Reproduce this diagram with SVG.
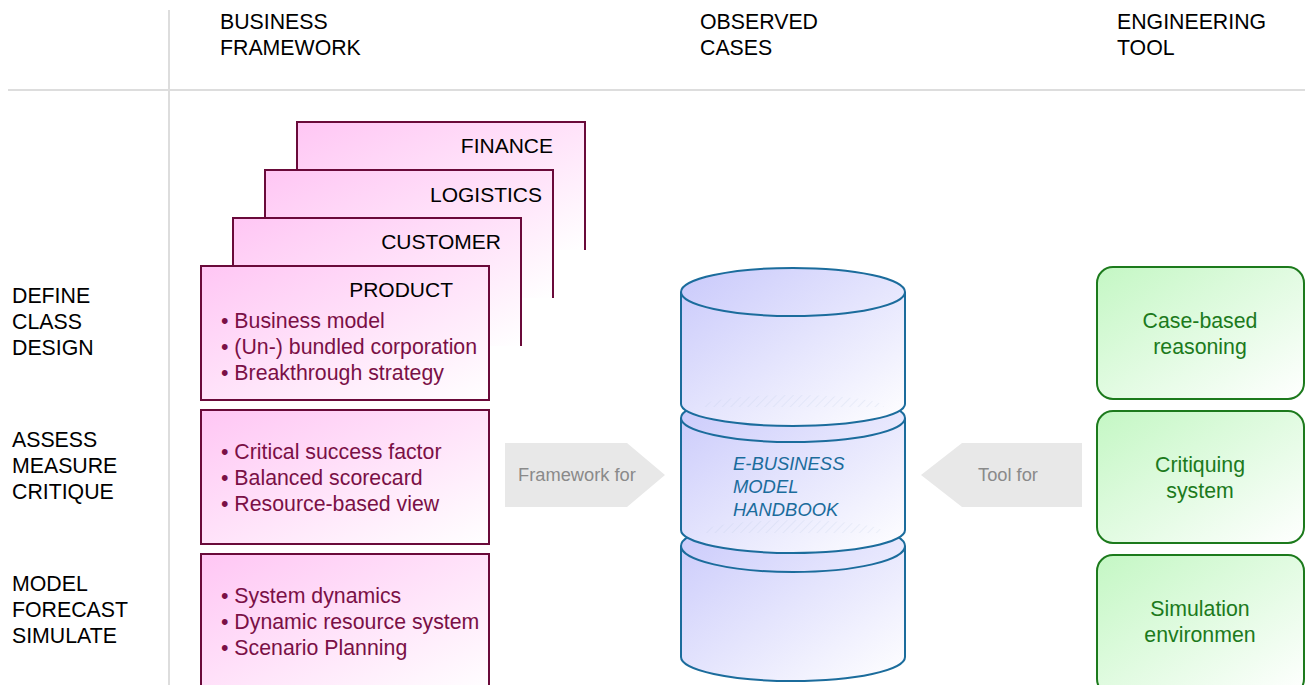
<svg xmlns="http://www.w3.org/2000/svg" width="1305" height="685" viewBox="0 0 1305 685">
  <defs>
    <linearGradient id="pinkFill" x1="0" y1="0" x2="1" y2="1">
      <stop offset="0" stop-color="#ffc6f4"/>
      <stop offset="1" stop-color="#ffffff"/>
    </linearGradient>
    <linearGradient id="blueFill" x1="0" y1="0" x2="1" y2="1">
      <stop offset="0" stop-color="#c9c9fb"/>
      <stop offset="1" stop-color="#ffffff"/>
    </linearGradient>
    <linearGradient id="greenFill" x1="0" y1="0" x2="1" y2="1">
      <stop offset="0" stop-color="#c4f7c4"/>
      <stop offset="1" stop-color="#ffffff"/>
    </linearGradient>
    <pattern id="hatch" width="6" height="6" patternUnits="userSpaceOnUse" patternTransform="rotate(45)">
      <line x1="0" y1="0" x2="0" y2="6" stroke="#a9bddb" stroke-width="1"/>
    </pattern>
  </defs>
  <style>
    text { font-family: "Liberation Sans", Arial, sans-serif; }
    .hdr { font-size: 21.3px; fill: #000; }
    .grid { stroke: #dddddd; stroke-width: 2; fill: none; }
    .card { fill: url(#pinkFill); stroke: #6a0a3a; stroke-width: 2; }
    .cardEdge { fill: none; stroke: #6a0a3a; stroke-width: 2; }
    .cardTitle { font-size: 21px; fill: #000; text-anchor: end; }
    .bullet { font-size: 21.3px; fill: #7a1046; }
    .cyl { fill: url(#blueFill); stroke: #1b6c9c; stroke-width: 2; }
    .cylLine { fill: none; stroke: #1b6c9c; stroke-width: 2; }
    .hatch { fill: url(#hatch); opacity: 0.35; }
    .cylText { font-size: 18.4px; font-style: italic; fill: #1b6c9c; }
    .tool { fill: url(#greenFill); stroke: #1c7a1c; stroke-width: 2; }
    .toolText { font-size: 21.3px; fill: #1c7a1c; text-anchor: middle; }
    .arrow { fill: #e8e8e8; }
    .arrowText { font-size: 18.3px; fill: #8a8a8a; }
  </style>

  <!-- grid lines -->
  <g id="grid">
    <line class="grid" x1="169" y1="10" x2="169" y2="685"/>
    <line class="grid" x1="8" y1="90" x2="1305" y2="90"/>
  </g>

  <!-- column headers -->
  <g id="headers">
    <text class="hdr" x="220" y="29">BUSINESS</text>
    <text class="hdr" x="220" y="55">FRAMEWORK</text>
    <text class="hdr" x="700" y="29">OBSERVED</text>
    <text class="hdr" x="700" y="55">CASES</text>
    <text class="hdr" x="1117" y="29">ENGINEERING</text>
    <text class="hdr" x="1117" y="55">TOOL</text>
  </g>

  <!-- row labels -->
  <g id="rows">
    <text class="hdr" x="12" y="303">DEFINE</text>
    <text class="hdr" x="12" y="329">CLASS</text>
    <text class="hdr" x="12" y="355">DESIGN</text>
    <text class="hdr" x="12" y="447">ASSESS</text>
    <text class="hdr" x="12" y="473">MEASURE</text>
    <text class="hdr" x="12" y="499">CRITIQUE</text>
    <text class="hdr" x="12" y="591">MODEL</text>
    <text class="hdr" x="12" y="617">FORECAST</text>
    <text class="hdr" x="12" y="643">SIMULATE</text>
  </g>

  <!-- stacked framework cards -->
  <g id="card-finance">
    <rect x="297" y="122" width="288" height="128" fill="url(#pinkFill)"/>
    <path class="cardEdge" d="M297 250 V122 H585 V250"/>
    <text class="cardTitle" x="553" y="153">FINANCE</text>
  </g>
  <g id="card-logistics">
    <rect x="265" y="170" width="288" height="128" fill="url(#pinkFill)"/>
    <path class="cardEdge" d="M265 298 V170 H553 V298"/>
    <text class="cardTitle" x="542" y="202">LOGISTICS</text>
  </g>
  <g id="card-customer">
    <rect x="233" y="218" width="288" height="128" fill="url(#pinkFill)"/>
    <path class="cardEdge" d="M233 346 V218 H521 V346"/>
    <text class="cardTitle" x="501" y="249">CUSTOMER</text>
  </g>
  <g id="card-product">
    <rect class="card" x="201" y="266" width="288" height="134"/>
    <text class="cardTitle" x="453" y="297">PRODUCT</text>
    <text class="bullet" x="221" y="328">• Business model</text>
    <text class="bullet" x="221" y="354">• (Un-) bundled corporation</text>
    <text class="bullet" x="221" y="380">• Breakthrough strategy</text>
  </g>
  <g id="box-assess">
    <rect class="card" x="201" y="410" width="288" height="134"/>
    <text class="bullet" x="221" y="459">• Critical success factor</text>
    <text class="bullet" x="221" y="485">• Balanced scorecard</text>
    <text class="bullet" x="221" y="511">• Resource-based view</text>
  </g>
  <g id="box-model">
    <rect class="card" x="201" y="554" width="288" height="140"/>
    <text class="bullet" x="221" y="603">• System dynamics</text>
    <text class="bullet" x="221" y="629">• Dynamic resource system</text>
    <text class="bullet" x="221" y="655">• Scenario Planning</text>
  </g>

  <!-- handbook cylinder: three stacked segments, drawn bottom first so each upper one overlaps -->
  <g id="handbook">
    <!-- bottom segment -->
    <path class="cyl" d="M681 546 A112 26 0 0 1 905 546 V657 A112 24 0 0 1 681 657 Z"/>
    <path class="cylLine" d="M681 546 A112 26 0 0 0 905 546"/>
    <!-- middle segment -->
    <path class="cyl" d="M681 418 A112 24 0 0 1 905 418 V530 A112 23 0 0 1 681 530 Z"/>
    <path class="cylLine" d="M681 418 A112 24 0 0 0 905 418"/>
    <path class="hatch" d="M702 533 A91 13 0 0 1 884 533 Z"/>
    <!-- top segment -->
    <path class="cyl" d="M681 292 A112 24 0 0 1 905 292 V404 A112 22 0 0 1 681 404 Z"/>
    <path class="cylLine" d="M681 292 A112 24 0 0 0 905 292"/>
    <path class="hatch" d="M702 407 A91 12 0 0 1 884 407 Z"/>
    <text class="cylText" x="733" y="470">E-BUSINESS</text>
    <text class="cylText" x="733" y="493">MODEL</text>
    <text class="cylText" x="733" y="516">HANDBOOK</text>
  </g>

  <!-- connectors -->
  <g id="connectors">
    <g id="framework-for">
      <polygon class="arrow" points="505,443 627,443 665,475 627,507 505,507"/>
      <text class="arrowText" x="518" y="481">Framework for</text>
    </g>
    <g id="tool-for">
      <polygon class="arrow" points="1082,443 962,443 921,475 962,507 1082,507"/>
      <text class="arrowText" x="978" y="481">Tool for</text>
    </g>
  </g>

  <!-- engineering tools -->
  <g id="tool-cbr">
    <rect class="tool" x="1097" y="267" width="207" height="132" rx="16"/>
    <text class="toolText" x="1200" y="328">Case-based</text>
    <text class="toolText" x="1200" y="354">reasoning</text>
  </g>
  <g id="tool-critiquing">
    <rect class="tool" x="1097" y="411" width="207" height="132" rx="16"/>
    <text class="toolText" x="1200" y="472">Critiquing</text>
    <text class="toolText" x="1200" y="498">system</text>
  </g>
  <g id="tool-simulation">
    <rect class="tool" x="1097" y="555" width="207" height="140" rx="16"/>
    <text class="toolText" x="1200" y="616">Simulation</text>
    <text class="toolText" x="1200" y="642">environmen</text>
  </g>
</svg>
